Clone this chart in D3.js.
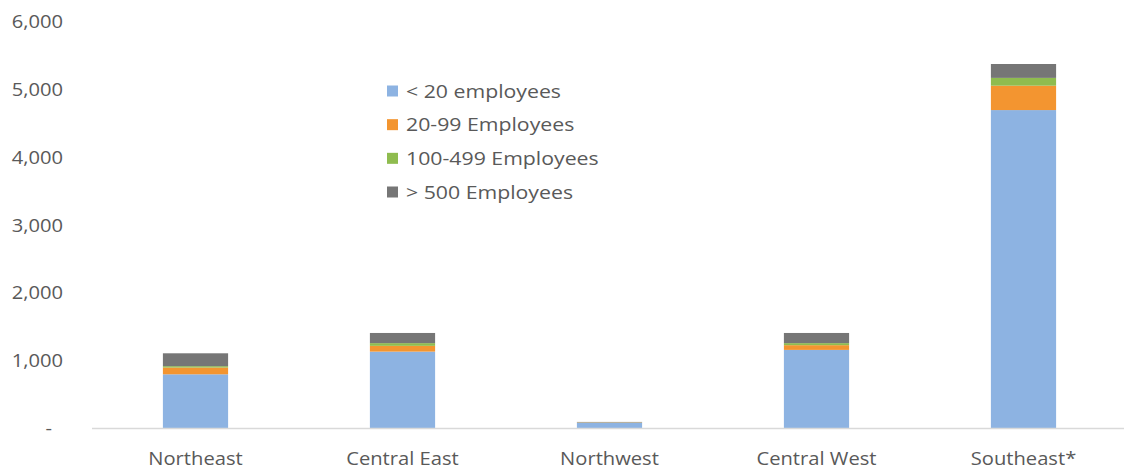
<!DOCTYPE html>
<html>
<head>
<meta charset="utf-8">
<script src="https://cdn.jsdelivr.net/npm/d3@7"></script>
<style>
  html, body { margin: 0; padding: 0; background: #ffffff; }
  svg { display: block; }
  text { font-family: "Open Sans", sans-serif; fill: #595959; }
</style>
</head>
<body>
<svg id="chart" width="1124" height="470"></svg>
<script>
// ---- data ----
const categories = ["Northeast", "Central East", "Northwest", "Central West", "Southeast*"];
const seriesNames = ["< 20 employees", "20-99 Employees", "100-499 Employees", "> 500 Employees"];
const under20   = [800, 1135, 85, 1160, 4700];
const e20to99   = [100, 85, 4, 70, 360];
const e100to499 = [20, 40, 2, 30, 115];
const over500   = [190, 150, 6, 150, 205];
const yTicks = [0, 1000, 2000, 3000, 4000, 5000, 6000];
const colors = ["#8db3e2", "#f39530", "#8fbc4f", "#767676"];

// ---- layout ----
const svg = d3.select("#chart");
const W = 1124, H = 470;
const x0 = 92, x1 = 1127, yBase = 428.5, yTop = 22;
const textScale = 1.12;

const x = d3.scaleBand().domain(categories).range([x0, x1]).paddingInner(0).paddingOuter(0);
const y = d3.scaleLinear().domain([0, 6000]).range([yBase, yTop]);
const barW = x.bandwidth() * 0.315;

const rows = categories.map((c, i) => ({
  cat: c, s0: under20[i], s1: e20to99[i], s2: e100to499[i], s3: over500[i]
}));
const stack = d3.stack().keys(["s0", "s1", "s2", "s3"]);
const layers = stack(rows);

// bars
svg.append("g").selectAll("g")
  .data(layers)
  .join("g")
  .attr("fill", (d, i) => colors[i])
  .selectAll("rect")
  .data(d => d)
  .join("rect")
  .attr("x", d => x(d.data.cat) + x.bandwidth() / 2 - barW / 2)
  .attr("width", barW)
  .attr("y", d => y(d[1]))
  .attr("height", d => Math.max(0, y(d[0]) - y(d[1])));

// baseline
svg.append("line")
  .attr("x1", x0).attr("x2", W)
  .attr("y1", y(0)).attr("y2", y(0))
  .attr("stroke", "#d9d9d9").attr("stroke-width", 1.5);

// y axis labels
const fmt = d3.format(",");
const yAxis = svg.append("g");
yAxis.selectAll("text")
  .data(yTicks)
  .join("text")
  .attr("transform", d => `translate(${d === 0 ? 52 : 63},${y(d)}) scale(${textScale},1)`)
  .attr("text-anchor", "end")
  .attr("dy", "0.35em")
  .style("font-size", "18px")
  .text(d => d === 0 ? "-" : fmt(d));

// x axis labels
svg.append("g").selectAll("text")
  .data(categories)
  .join("text")
  .attr("transform", d => `translate(${x(d) + x.bandwidth() / 2},${465}) scale(${textScale},1)`)
  .attr("text-anchor", "middle")
  .style("font-size", "18px")
  .text(d => d);

// legend
const legend = svg.append("g");
const legY = d3.scalePoint().domain(seriesNames).range([91, 192]);
const lg = legend.selectAll("g")
  .data(seriesNames)
  .join("g")
  .attr("transform", d => `translate(387,${legY(d)})`);
lg.append("rect")
  .attr("x", 0).attr("y", -5.5)
  .attr("width", 11).attr("height", 11)
  .attr("fill", (d, i) => colors[i]);
lg.append("text")
  .attr("transform", `translate(19,0) scale(${textScale},1)`)
  .attr("dy", "0.35em")
  .style("font-size", "19px")
  .text(d => d);
</script>
</body>
</html>
